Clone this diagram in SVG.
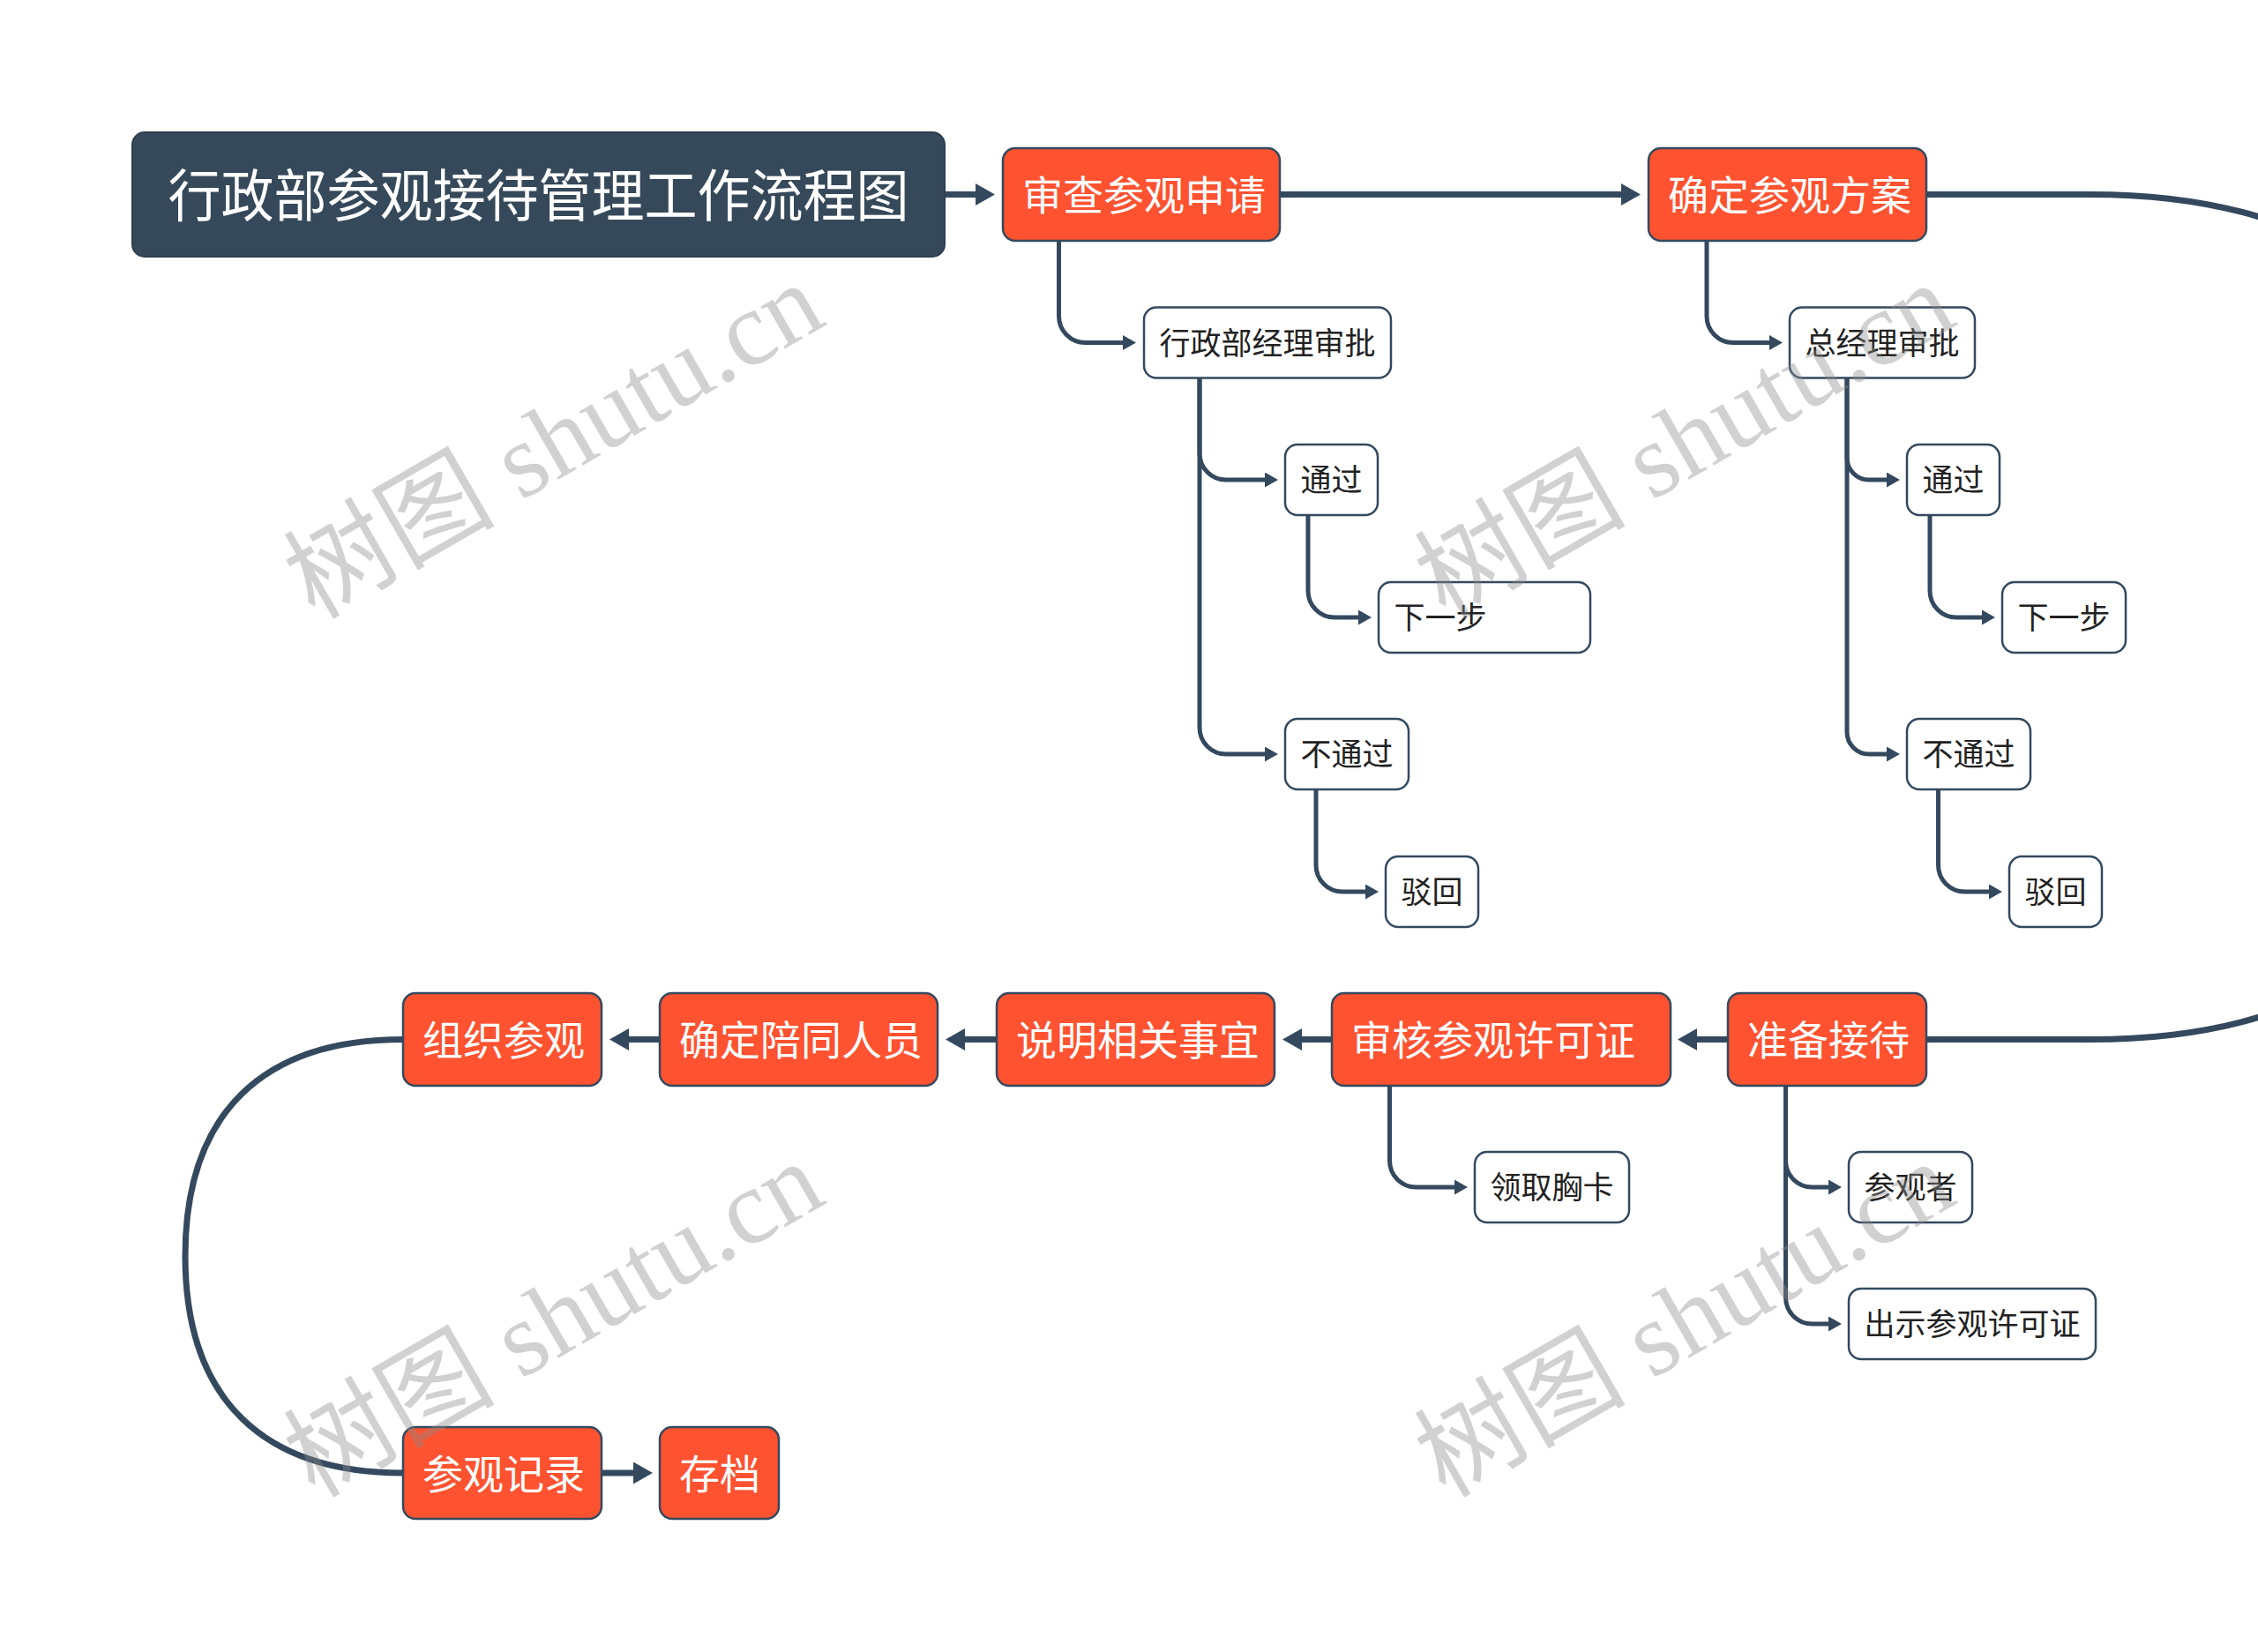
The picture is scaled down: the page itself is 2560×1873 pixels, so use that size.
<svg xmlns="http://www.w3.org/2000/svg" width="2560" height="1873" viewBox="0 0 2560 1873">
<style>
.main rect{fill:#fe5230;stroke:#34495e;stroke-width:2.5}
.main text{fill:#ffffff;font-family:"Noto Sans CJK SC","Noto Sans",sans-serif;font-size:46px}
.sub rect{fill:#ffffff;stroke:#34495e;stroke-width:2.5}
.sub text{fill:#222222;font-family:"Noto Sans CJK SC","Noto Sans",sans-serif;font-size:35px}
.title rect{fill:#36495a;stroke:#2c3e50;stroke-width:2}
.title text{fill:#ffffff;font-family:"Noto Sans CJK SC","Noto Sans",sans-serif;font-size:64px}
.big{fill:none;stroke:#34495e;stroke-width:7}
.small{fill:none;stroke:#34495e;stroke-width:5}
.wm{fill:#8c8c8c;fill-opacity:0.4;font-size:120px;font-family:"Liberation Serif","Noto Sans CJK SC",serif}
.wm .cjk{font-family:"Noto Sans CJK SC",sans-serif}
</style>
<defs>
<marker id="ahB" markerUnits="userSpaceOnUse" markerWidth="22" markerHeight="25" refX="0" refY="12.5" orient="auto" viewBox="0 0 22 25">
<path d="M0,0 L22,12.5 L0,25 z" fill="#34495e"/>
</marker>
<marker id="ahS" markerUnits="userSpaceOnUse" markerWidth="15" markerHeight="17" refX="0" refY="8.5" orient="auto" viewBox="0 0 15 17">
<path d="M0,0 L15,8.5 L0,17 z" fill="#34495e"/>
</marker>
</defs>
<rect x="0" y="0" width="2560" height="1873" fill="#ffffff"/>

<g id="connectors">
<path class="big" d="M1071,220.5 H1106" marker-end="url(#ahB)"/>
<path class="big" d="M1451,220.5 H1838" marker-end="url(#ahB)"/>
<path class="big" d="M2184,220.5 H2370 C2676,220.5 2852,379 2852,699.5 C2852,1020 2676,1178.5 2370,1178.5 H2184"/>
<path class="big" d="M1959,1178.5 H1924" marker-end="url(#ahB)"/>
<path class="big" d="M1510,1178.5 H1476" marker-end="url(#ahB)"/>
<path class="big" d="M1130,1178.5 H1094" marker-end="url(#ahB)"/>
<path class="big" d="M748,1178.5 H713" marker-end="url(#ahB)"/>
<path class="big" d="M457,1178.5 C300,1178.5 210,1260 210,1424 C210,1588 300,1670 457,1670"/>
<path class="big" d="M682,1670 H718" marker-end="url(#ahB)"/>

<path class="small" d="M1200.5,273 V358.5 A30,30 0 0 0 1230.5,388.5 H1273" marker-end="url(#ahS)"/>
<path class="small" d="M1360,429 V514 A30,30 0 0 0 1390,544 H1434" marker-end="url(#ahS)"/>
<path class="small" d="M1360,429 V825 A30,30 0 0 0 1390,855 H1434" marker-end="url(#ahS)"/>
<path class="small" d="M1483,584 V670 A30,30 0 0 0 1513,700 H1540" marker-end="url(#ahS)"/>
<path class="small" d="M1492,895 V981 A30,30 0 0 0 1522,1011 H1548" marker-end="url(#ahS)"/>
<path class="small" d="M1935,273 V358.5 A30,30 0 0 0 1965,388.5 H2006" marker-end="url(#ahS)"/>
<path class="small" d="M2094,429 V519 A25,25 0 0 0 2119,544 H2139" marker-end="url(#ahS)"/>
<path class="small" d="M2094,429 V830 A25,25 0 0 0 2119,855 H2139" marker-end="url(#ahS)"/>
<path class="small" d="M2188,584 V670 A30,30 0 0 0 2218,700 H2247" marker-end="url(#ahS)"/>
<path class="small" d="M2197.5,895 V981 A30,30 0 0 0 2227.5,1011 H2255" marker-end="url(#ahS)"/>
<path class="small" d="M1575.5,1231 V1316 A30,30 0 0 0 1605.5,1346 H1649" marker-end="url(#ahS)"/>
<path class="small" d="M2024.5,1231 V1316 A30,30 0 0 0 2054.5,1346 H2073" marker-end="url(#ahS)"/>
<path class="small" d="M2024.5,1231 V1471 A30,30 0 0 0 2054.5,1501 H2073" marker-end="url(#ahS)"/>
</g>

<g id="node-title" class="title"><rect x="150" y="150" width="921" height="141" rx="14"/><text x="610.5" y="245" text-anchor="middle" textLength="840" lengthAdjust="spacingAndGlyphs">行政部参观接待管理工作流程图</text></g>

<g id="node-shencha" class="main"><rect x="1137" y="168" width="314" height="105" rx="14"/><text x="1159" y="238">审查参观申请</text></g>
<g id="node-queding-fangan" class="main"><rect x="1869" y="168" width="315" height="105" rx="14"/><text x="1891" y="238">确定参观方案</text></g>
<g id="node-zhunbei" class="main"><rect x="1959" y="1126" width="225" height="105" rx="14"/><text x="1981" y="1196">准备接待</text></g>
<g id="node-shenhe" class="main"><rect x="1510" y="1126" width="384" height="105" rx="14"/><text x="1532" y="1196">审核参观许可证</text></g>
<g id="node-shuoming" class="main"><rect x="1130" y="1126" width="315" height="105" rx="14"/><text x="1152" y="1196">说明相关事宜</text></g>
<g id="node-peitong" class="main"><rect x="748" y="1126" width="315" height="105" rx="14"/><text x="770" y="1196">确定陪同人员</text></g>
<g id="node-zuzhi" class="main"><rect x="457" y="1126" width="225" height="105" rx="14"/><text x="479" y="1196">组织参观</text></g>
<g id="node-jilu" class="main"><rect x="457" y="1618" width="225" height="104" rx="14"/><text x="479" y="1687.5">参观记录</text></g>
<g id="node-cundang" class="main"><rect x="748" y="1618" width="135" height="104" rx="14"/><text x="770" y="1687.5">存档</text></g>

<g id="node-xzb-shenpi" class="sub"><rect x="1297" y="348.5" width="280" height="80" rx="14"/><text x="1314.5" y="401.8">行政部经理审批</text></g>
<g id="node-tongguo1" class="sub"><rect x="1457" y="504" width="105" height="80" rx="14"/><text x="1474.5" y="557.3">通过</text></g>
<g id="node-xiayibu1" class="sub"><rect x="1563" y="660" width="240" height="80" rx="14"/><text x="1580.5" y="713.3">下一步</text></g>
<g id="node-butongguo1" class="sub"><rect x="1457" y="815" width="140" height="80" rx="14"/><text x="1474.5" y="868.3">不通过</text></g>
<g id="node-bohui1" class="sub"><rect x="1571" y="971" width="105" height="80" rx="14"/><text x="1588.5" y="1024.3">驳回</text></g>
<g id="node-zjl-shenpi" class="sub"><rect x="2029" y="348.5" width="210" height="80" rx="14"/><text x="2046.5" y="401.8">总经理审批</text></g>
<g id="node-tongguo2" class="sub"><rect x="2162" y="504" width="105" height="80" rx="14"/><text x="2179.5" y="557.3">通过</text></g>
<g id="node-xiayibu2" class="sub"><rect x="2270" y="660" width="140" height="80" rx="14"/><text x="2287.5" y="713.3">下一步</text></g>
<g id="node-butongguo2" class="sub"><rect x="2162" y="815" width="140" height="80" rx="14"/><text x="2179.5" y="868.3">不通过</text></g>
<g id="node-bohui2" class="sub"><rect x="2278" y="971" width="105" height="80" rx="14"/><text x="2295.5" y="1024.3">驳回</text></g>
<g id="node-xiongka" class="sub"><rect x="1672" y="1306" width="175" height="80" rx="14"/><text x="1689.5" y="1359.3">领取胸卡</text></g>
<g id="node-canguanzhe" class="sub"><rect x="2096" y="1306" width="140" height="80" rx="14"/><text x="2113.5" y="1359.3">参观者</text></g>
<g id="node-chushi" class="sub"><rect x="2096" y="1461" width="280" height="80" rx="14"/><text x="2113.5" y="1514.3">出示参观许可证</text></g>

<g id="watermarks" class="wm" text-anchor="middle">
<text transform="translate(648,535) rotate(-30)"><tspan class="cjk">树图</tspan> shutu.cn</text>
<text transform="translate(1930,535) rotate(-30)"><tspan class="cjk">树图</tspan> shutu.cn</text>
<text transform="translate(648,1531) rotate(-30)"><tspan class="cjk">树图</tspan> shutu.cn</text>
<text transform="translate(1930,1531) rotate(-30)"><tspan class="cjk">树图</tspan> shutu.cn</text>
</g>
</svg>
